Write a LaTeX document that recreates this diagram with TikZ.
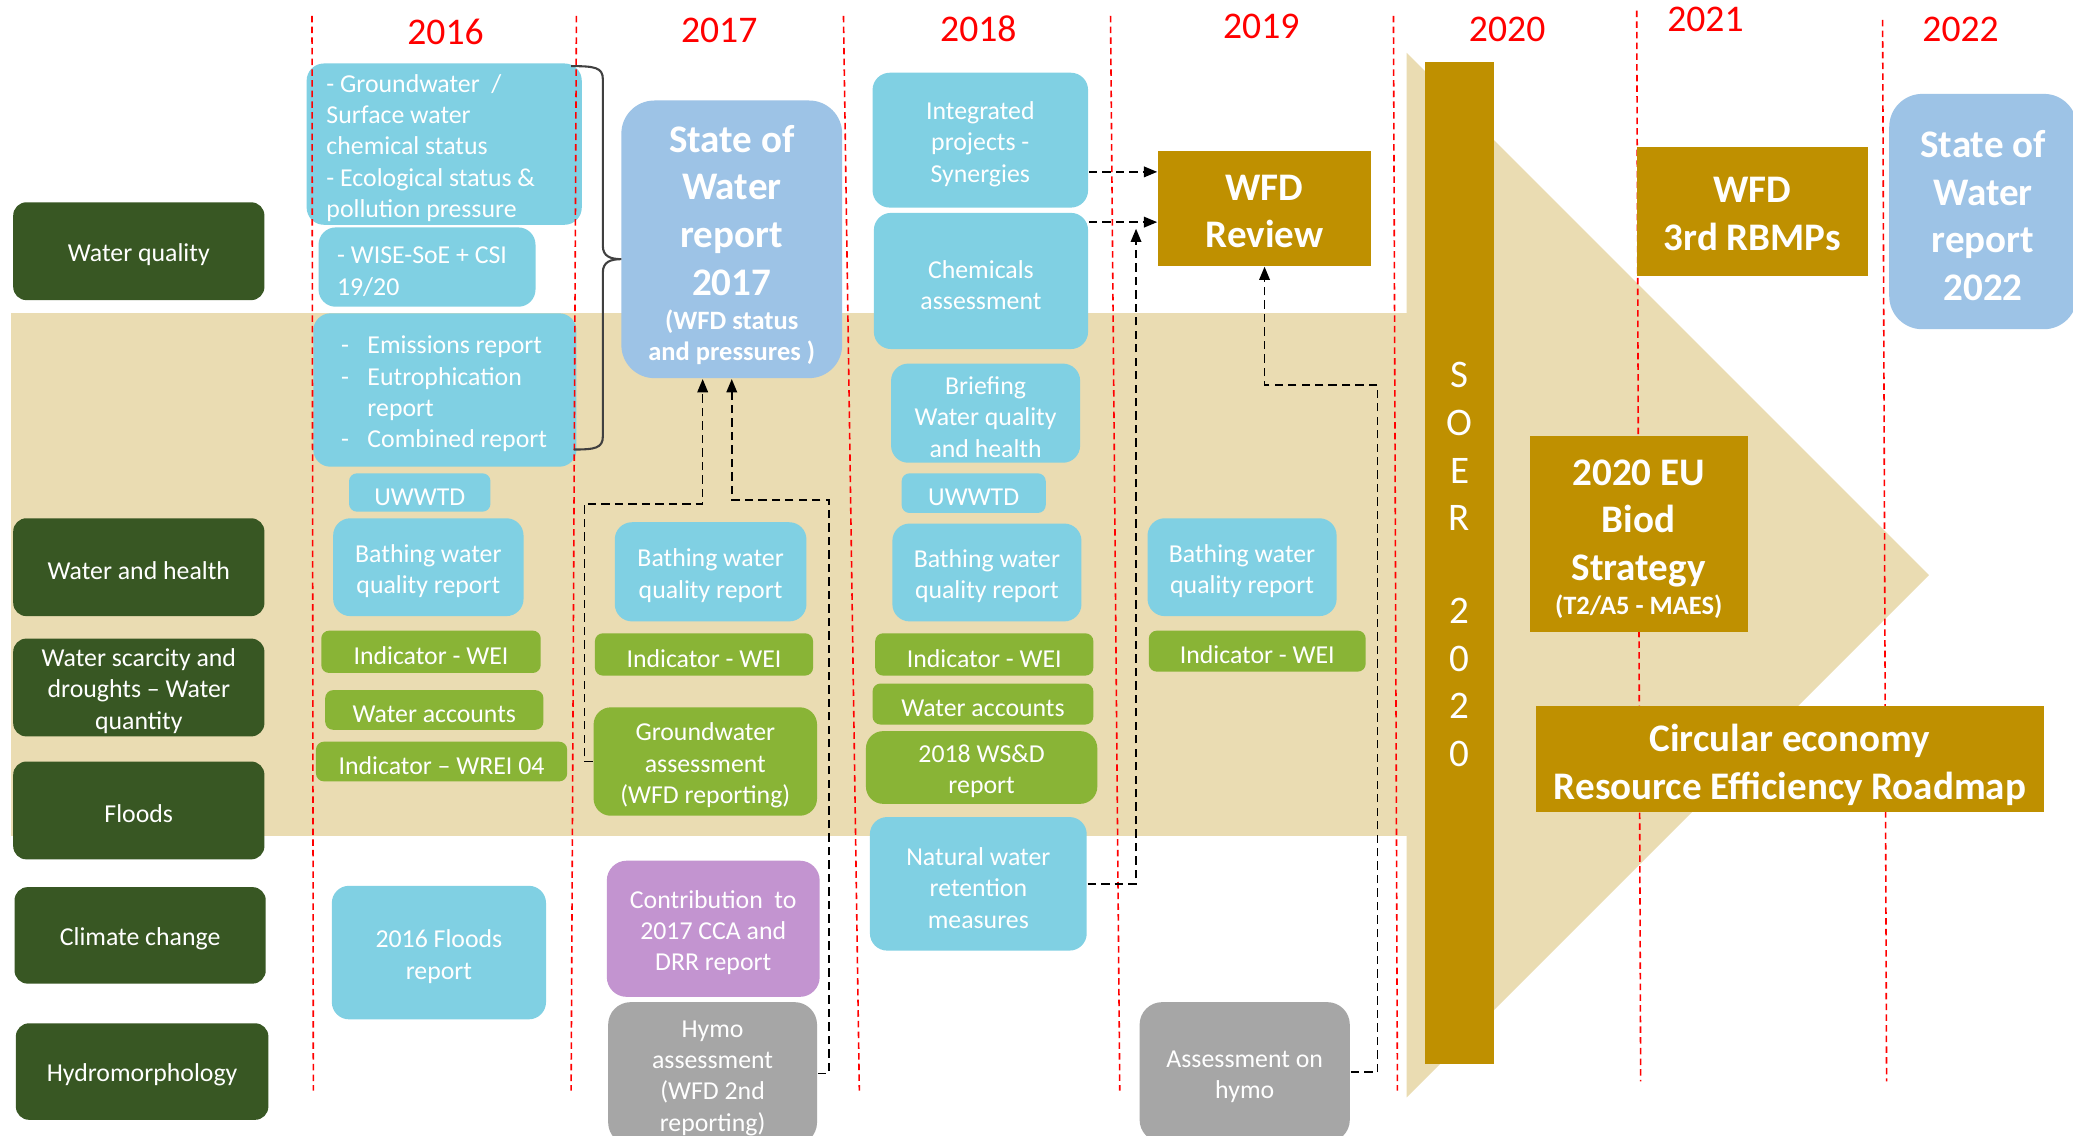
\documentclass[tikz,border=0pt]{standalone}
\usepackage{fontspec}
\setmainfont{Carlito}
\usetikzlibrary{arrows.meta,calc}
\definecolor{cCat}{RGB}{56,87,35}
\definecolor{cBlue}{RGB}{128,208,227}
\definecolor{cGreen}{RGB}{137,180,54}
\definecolor{cPurple}{RGB}{195,148,208}
\definecolor{cGray}{RGB}{166,166,166}
\definecolor{cSteel}{RGB}{157,195,230}
\definecolor{cGold}{RGB}{191,144,0}
\definecolor{cBeige}{RGB}{234,220,178}
\definecolor{cRed}{RGB}{255,0,0}
\definecolor{cBrace}{RGB}{64,64,64}
\newcommand\myfs{\fontsize{5.55pt}{6.75pt}\selectfont}
\newcommand\myyear{\fontsize{8.1pt}{9pt}\selectfont}
\newcommand\mybig{\fontsize{8.4pt}{10.24pt}\selectfont\bfseries}
\newcommand\mybigr{\fontsize{8.4pt}{10.24pt}\selectfont}
\newcommand\mysmb{\fontsize{5.7pt}{6.55pt}\selectfont\bfseries}
\newcommand\mydash[1]{\mbox{\makebox[0.2cm][l]{-}#1}}
\newcommand\bx[8][]{%
  \pgfmathsetmacro\bxw{(#6-#4)*0.01}%
  \pgfmathsetmacro\bxh{(#7-#5)*0.01}%
  \pgfmathsetmacro\bxt{max((#6-#4-10)*0.01,0.1)}%
  \pgfmathsetmacro\bxx{(#4+#6)/2}%
  \pgfmathsetmacro\bxy{(#5+#7)/2}%
  \node[#2, minimum width=\bxw cm, minimum height=\bxh cm, text width=\bxt cm, #1] (#3) at (\bxx,\bxy) {\rule{0pt}{\bxtop}#8};}
\tikzset{
  toppad/.store in=\bxtop,
  bxbase/.style={inner xsep=0.05cm, inner ysep=0pt, align=flush center, text=white, font=\myfs, toppad=1em},
  bxcat/.style={bxbase, fill=cCat, rounded corners=0.1cm, toppad=0.95em},
  bxblue/.style={bxbase, fill=cBlue, rounded corners=0.13cm},
  bxblues/.style={bxbase, fill=cBlue, rounded corners=0.06cm},
  bxgrn/.style={bxbase, fill=cGreen, rounded corners=0.06cm},
  bxgrnb/.style={bxbase, fill=cGreen, rounded corners=0.13cm},
  bxpurp/.style={bxbase, fill=cPurple, rounded corners=0.15cm},
  bxgray/.style={bxbase, fill=cGray, rounded corners=0.17cm},
  bxsow/.style={bxbase, fill=cSteel, rounded corners=0.25cm, font=\mybig, toppad=0.9em},
  bxgold/.style={bxbase, fill=cGold, font=\mybig, toppad=0.81em},
  yearlbl/.style={text=cRed, font=\myyear, inner sep=0pt},
  yearline/.style={draw=cRed, line width=0.34pt, dash pattern=on 1.4pt off 0.9pt},
  conn/.style={draw=black, line width=0.34pt, dash pattern=on 1.8pt off 1.1pt,
    -{Triangle[length=0.1cm, width=0.08cm]}},
  bracestyle/.style={draw=cBrace, line width=0.45pt}
}
\begin{document}
\begin{tikzpicture}[x=0.01cm, y=-0.01cm]
\useasboundingbox (0,0) rectangle (1568,859);
\clip (0,0) rectangle (1568,859);
\fill[white] (0,0) rectangle (1568,859);
% background band and arrow
\fill[cBeige] (8,237) rectangle (1065,632);
\fill[cBeige] (1064,40) -- (1459,435) -- (1064,830) -- cycle;
% year labels
\node[yearlbl] (y16) at (337,24) {2016};
\node[yearlbl] (y17) at (544,23) {2017};
\node[yearlbl] (y18) at (740,22) {2018};
\node[yearlbl] (y19) at (954,20) {2019};
\node[yearlbl] (y20) at (1140,22) {2020};
\node[yearlbl] (y21) at (1290,15) {2021};
\node[yearlbl] (y22) at (1483,22) {2022};
% categories
\bx{bxcat}{cwq}{10}{153}{200}{227}{Water quality}
\bx{bxcat}{cwh}{10}{392}{200}{466}{Water and health}
\bx{bxcat}{cws}{10}{483}{200}{557}{Water scarcity and\\droughts – Water\\quantity}
\bx{bxcat}{cfl}{10}{576}{200}{650}{Floods}
\bx{bxcat}{ccc}{11}{671}{201}{744}{Climate change}
\bx{bxcat}{chy}{12}{774}{203}{847}{Hydromorphology}
% 2016
\bx[inner xsep=0.15cm, text width=1.78cm, align=flush left]{bxblue}{gw16}{232}{48}{440}{170}{\mbox{- Groundwater~~/}\\Surface water\\chemical status\\\mbox{- Ecological status \&}\\pollution pressure}
\bx[inner xsep=0.14cm, text width=1.36cm, align=flush left]{bxblue}{wise16}{241}{172}{405}{232}{\mbox{- WISE-SoE + CSI}\\19/20}
\bx[inner xsep=0.21cm, text width=1.57cm, align=flush left]{bxblue}{em16}{237}{237}{436}{353}{\mydash{Emissions report}\\\mydash{Eutrophication}\\\hspace*{0.2cm}report\\\mydash{Combined report}}
\bx{bxblues}{uw16}{264}{358}{371}{387}{UWWTD}
\bx{bxblue}{bw16}{252}{392}{396}{466}{Bathing water\\quality report}
\bx{bxgrn}{wei16}{243}{477}{409}{509}{Indicator - WEI}
\bx{bxgrn}{wa16}{246}{522}{411}{552}{Water accounts}
\bx{bxgrn}{wrei16}{239}{561}{429}{591}{Indicator – WREI 04}
\bx{bxblue}{fl16}{251}{670}{413}{771}{2016 Floods\\report}
% 2017
\bx[toppad=0.97em]{bxsow}{sow17}{470}{76}{637}{286}{{\mybig State of\\Water\\report\\2017\par}\vspace{0.03cm}{\mysmb (WFD status\\and pressures )\par}}
\bx{bxblue}{bw17}{465}{395}{610}{470}{Bathing water\\quality report}
\bx{bxgrn}{wei17}{450}{479}{615}{511}{Indicator - WEI}
\bx{bxgrnb}{gwa17}{449}{535}{618}{617}{Groundwater\\assessment\\(WFD reporting)}
\bx{bxpurp}{ccd17}{459}{651}{620}{754}{Contribution~~to\\2017 CCA and\\DRR report}
\bx{bxgray}{hymo17}{460}{758}{618}{866}{Hymo\\assessment\\(WFD 2nd\\reporting)}
% 2018
\bx{bxblue}{ip18}{660}{55}{823}{157}{Integrated\\projects -\\Synergies}
\bx{bxblue}{chem18}{661}{161}{823}{264}{Chemicals\\assessment}
\bx{bxblue}{brf18}{674}{275}{817}{350}{Briefing\\Water quality\\and health}
\bx{bxblues}{uw18}{682}{358}{791}{388}{UWWTD}
\bx{bxblue}{bw18}{675}{396}{818}{470}{Bathing water\\quality report}
\bx{bxgrn}{wei18}{662}{479}{827}{511}{Indicator - WEI}
\bx{bxgrn}{wa18}{660}{517}{827}{548}{Water accounts}
\bx{bxgrnb}{wsd18}{655}{553}{830}{608}{2018 WS\&D\\report}
\bx{bxblue}{nwrm18}{658}{618}{822}{719}{Natural water\\retention\\measures}
% 2019
\bx{bxblue}{bw19}{868}{392}{1011}{466}{Bathing water\\quality report}
\bx{bxgrn}{wei19}{869}{477}{1033}{508}{Indicator - WEI}
\bx{bxgray}{ah19}{862}{758}{1021}{864}{Assessment on\\hymo}
% 2022
\bx{bxsow}{sow22}{1429}{71}{1571}{249}{State of\\Water\\report\\2022}
% year separator lines
\draw[yearline] (236,12) -- (237,825);
\draw[yearline] (436,12) -- (432,825);
\draw[yearline] (638,12) -- (650,825);
\draw[yearline] (840,12) -- (847,825);
\draw[yearline] (1054,12) -- (1057,825);
\draw[yearline] (1238,8) -- (1241,818);
\draw[yearline] (1424,15) -- (1427,818);
% gold items
\bx{bxgold}{wfd19}{876}{114}{1037}{201}{WFD\\Review}
\bx[font=\mybigr, toppad=0.72em]{bxgold}{soer}{1078}{47}{1130}{805}{S\\O\\E\\R\\[9.7pt]2\\0\\2\\0}
\bx[toppad=0.92em]{bxgold}{biod}{1157}{330}{1322}{478}{{\mybig 2020 EU\\Biod\\Strategy\par}\vspace{0.03cm}{\mysmb (T2/A5 - MAES)\par}}
\bx[toppad=1.02em]{bxgold}{circ}{1162}{534}{1546}{614}{Circular economy\\Resource Efficiency Roadmap}
\bx[toppad=0.76em]{bxgold}{rbmp}{1238}{111}{1413}{209}{WFD\\3rd RBMPs}
% brace
\draw[bracestyle] (432,50) .. controls (450,50) and (456,51) .. (456,60) -- (456,186)
  .. controls (456,194) and (462,196) .. (470,196)
  .. controls (462,196) and (456,198) .. (456,206) -- (456,330)
  .. controls (456,339) and (450,340) .. (434,340);
% connectors
\draw[conn] (gwa17.west) -| (442,381) -| ($(sow17.south)+(-22,0)$);
\draw[conn] (hymo17.east) -| (627,378) -| (sow17.south);
\draw[conn] (ip18.east |- 0,130) -- (wfd19.west |- 0,130);
\draw[conn] (chem18.east |- 0,168) -- (wfd19.west |- 0,168);
\draw[conn] (nwrm18.east) -| ($(wfd19.west |- 0,173)+(-16,0)$);
\draw[conn] (ah19.east) -| (1042,291) -| (wfd19.south);
\end{tikzpicture}
\end{document}
